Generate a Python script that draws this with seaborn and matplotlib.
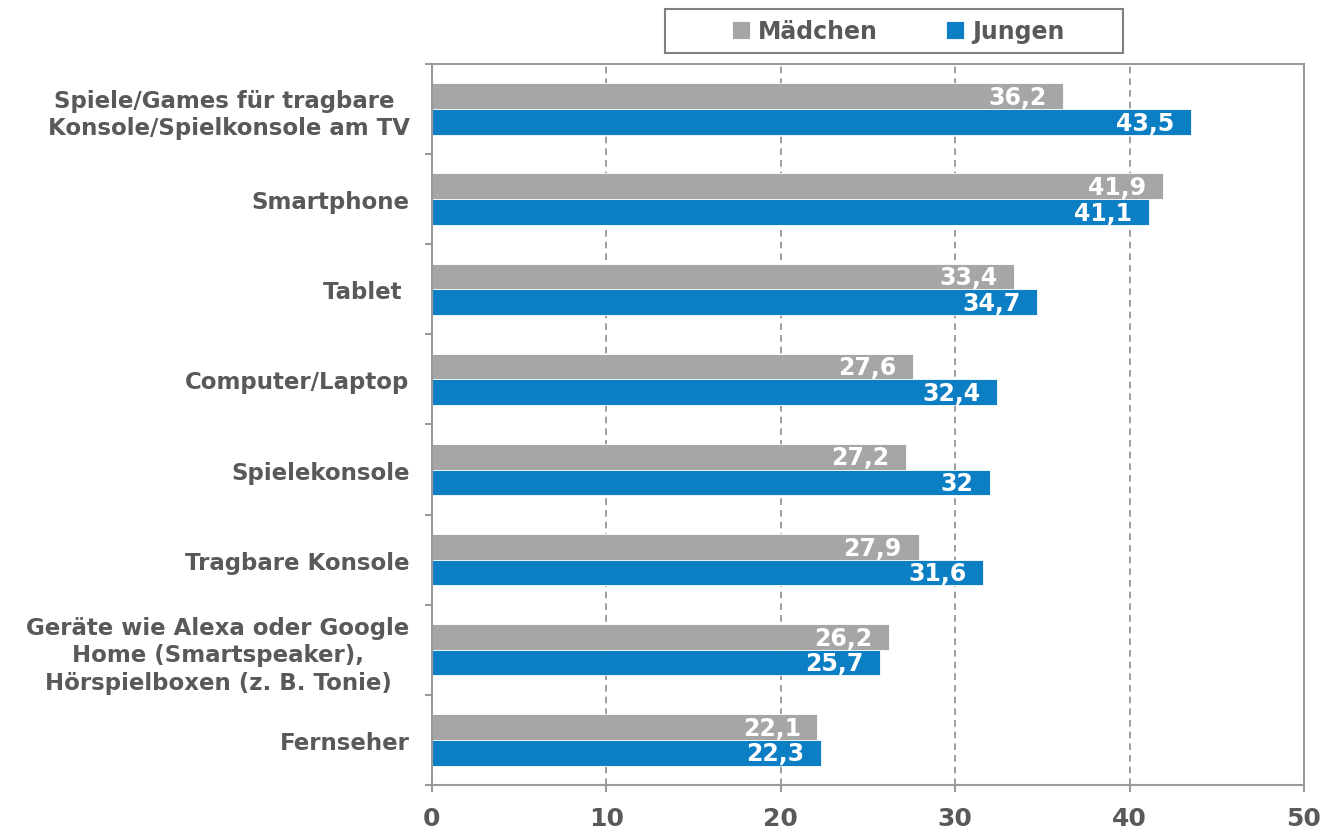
import matplotlib.pyplot as plt
import seaborn as sns
import numpy as np
import pandas as pd
from matplotlib.patches import Rectangle

kategorien = ["Spiele/Games für tragbare \nKonsole/Spielkonsole am TV",
              "Smartphone",
              "Tablet ",
              "Computer/Laptop",
              "Spielekonsole",
              "Tragbare Konsole",
              "Geräte wie Alexa oder Google\nHome (Smartspeaker),\nHörspielboxen (z. B. Tonie)",
              "Fernseher"]
maedchen = [36.2, 41.9, 33.4, 27.6, 27.2, 27.9, 26.2, 22.1]
jungen = [43.5, 41.1, 34.7, 32.4, 32.0, 31.6, 25.7, 22.3]
x_ticks = [0, 10, 20, 30, 40, 50]

grau = "#A6A6A6"
blau = "#0C7FC4"
text_farbe = "#595959"
linien_farbe = "#9A9A9A"

df = pd.DataFrame({
    "kategorie": kategorien * 2,
    "wert": maedchen + jungen,
    "geschlecht": ["Mädchen"] * len(kategorien) + ["Jungen"] * len(kategorien),
})

sns.set_style("white")
plt.rcParams["font.family"] = ["DejaVu Sans"]
plt.rcParams["font.weight"] = "bold"

fig = plt.figure(figsize=(13.23, 8.29), dpi=100)
ax = fig.add_axes([0.3265, 0.0519, 0.6591, 0.8697])

sns.barplot(data=df, x="wert", y="kategorie", hue="geschlecht",
            palette=[grau, blau], width=0.57, orient="h", ax=ax,
            edgecolor="white", linewidth=0.6, saturation=1)

# Werte in die Balken schreiben
for container in ax.containers:
    for bar in container:
        w = bar.get_width()
        ax.annotate(f"{w:g}".replace(".", ","),
                    xy=(w, bar.get_y() + bar.get_height() / 2),
                    xytext=(-12, -0.5), textcoords="offset points",
                    ha="right", va="center", color="white",
                    fontsize=17, fontweight="bold")

ax.set_xlim(0, 50)
ax.set_xticks(x_ticks)
ax.set_xticklabels([str(t) for t in x_ticks], fontsize=18,
                   fontweight="bold", color=text_farbe)
ax.tick_params(axis="x", length=5, width=1.5, color=linien_farbe, pad=10,
               direction="out", bottom=True)

ax.set_yticks(np.arange(len(kategorien)))
ax.set_yticklabels(kategorien, fontsize=16.5, fontweight="bold",
                   color=text_farbe, multialignment="center",
                   linespacing=1.25)
ax.set_yticks(np.arange(-0.5, len(kategorien), 1), minor=True)
ax.tick_params(axis="y", which="major", length=0, pad=16)
ax.tick_params(axis="y", which="minor", length=5, width=1.5,
               color=linien_farbe, left=True, direction="out")

ax.set_xlabel("")
ax.set_ylabel("")

for g in x_ticks[1:-1]:
    ax.axvline(g, color="#8C8C8C", linestyle=(0, (4, 3)), linewidth=1.2,
               zorder=0)

for s in ax.spines.values():
    s.set_visible(True)
    s.set_color(linien_farbe)
    s.set_linewidth(1.5)

handles, labels = ax.get_legend_handles_labels()
ax.legend_.remove()
leg = fig.legend(handles, labels, loc="center", bbox_to_anchor=(0.679, 0.961),
                 ncol=2, frameon=False,
                 handlelength=0.75, handleheight=0.75,
                 handletextpad=0.35, columnspacing=2.9,
                 prop={"weight": "bold", "size": 17})
for t in leg.get_texts():
    t.set_color(text_farbe)

# Rahmen um die Legende
fig.patches.append(Rectangle((665 / 1323, 1 - 54 / 829), 458 / 1323, 44 / 829,
                             transform=fig.transFigure, fill=False,
                             edgecolor="#808080", linewidth=1.5))

fig.savefig("out.png", dpi=100)
